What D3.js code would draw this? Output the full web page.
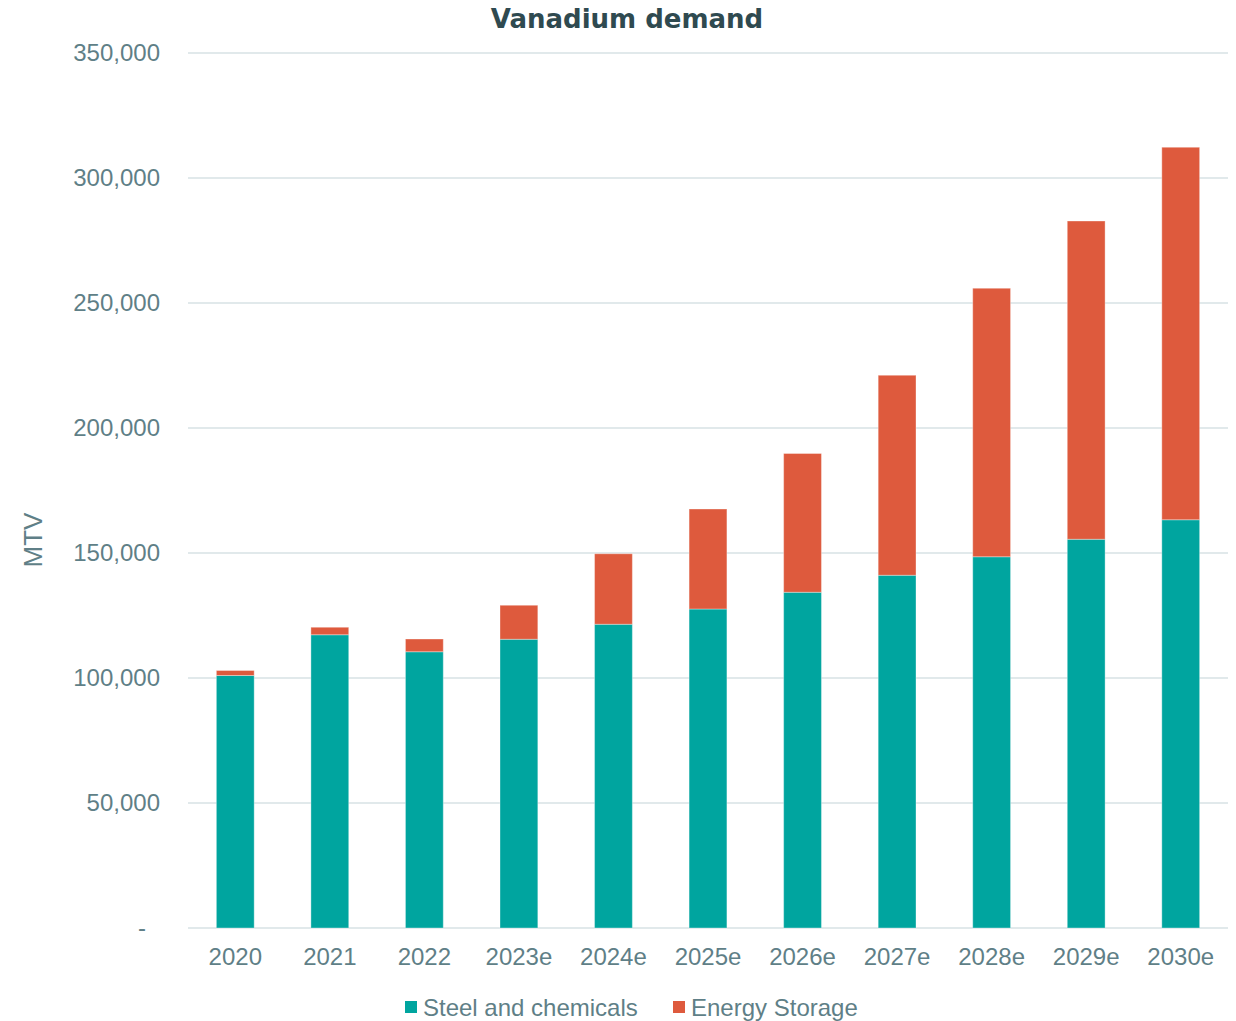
<!DOCTYPE html>
<html><head><meta charset="utf-8">
<script src="https://cdn.jsdelivr.net/npm/d3@7"></script>
<style>body{margin:0;background:#fff}</style>
</head><body>
<svg id="c" width="1236" height="1021"></svg>
<script>
const categories = ["2020","2021","2022","2023e","2024e","2025e","2026e","2027e","2028e","2029e","2030e"];
const steelAndChemicals = [101000,117300,110500,115500,121500,127600,134300,141100,148500,155500,163300];
const energyStorage = [2000,3000,5100,13600,28200,40000,55500,80000,107400,127300,149000];
const seriesNames = ["Steel and chemicals","Energy Storage"];
const seriesColors = ["#00A59F","#DE5A3D"];
const yTicks = [0,50000,100000,150000,200000,250000,300000,350000];

const svg = d3.select("#c");
const m = {l:188, r:1228, t:53, b:928};
const x = d3.scaleBand().domain(categories).range([m.l, m.r]).paddingInner(0.6).paddingOuter(0.3);
const y = d3.scaleLinear().domain([0,350000]).range([m.b, m.t]);
const textCol = "#5F7F87";
const font = "'Liberation Sans', Arial, sans-serif";

// gridlines
svg.append("g").selectAll("line").data(yTicks).join("line")
  .attr("x1", m.l).attr("x2", m.r)
  .attr("y1", d=>y(d)).attr("y2", d=>y(d))
  .attr("stroke", "#E1E9EB").attr("stroke-width", 2);

// y axis
const yAxis = d3.axisLeft(y).tickValues(yTicks).tickSize(0).tickPadding(28)
  .tickFormat(d => d===0 ? "-" : d3.format(",")(d));
const ga = svg.append("g").attr("transform", `translate(${m.l},0)`).call(yAxis);
ga.select(".domain").remove();
ga.selectAll("text").attr("fill", textCol).style("font-family", font).style("font-size","24px");
ga.selectAll(".tick").filter(d=>d===0).select("text").attr("dx", -14);

// x axis
const xAxis = d3.axisBottom(x).tickSize(0).tickPadding(20);
const gx = svg.append("g").attr("transform", `translate(0,${m.b})`).call(xAxis);
gx.select(".domain").remove();
gx.selectAll("text").attr("fill", textCol).style("font-family", font).style("font-size","24px");

// stacked data
const rows = categories.map((c,i)=>({cat:c, s:steelAndChemicals[i], e:energyStorage[i]}));
const stack = d3.stack().keys(["s","e"])(rows);
svg.append("g").selectAll("g").data(stack).join("g")
  .attr("fill",(d,i)=>seriesColors[i])
  .selectAll("rect").data(d=>d).join("rect")
  .attr("x", d=>x(d.data.cat)).attr("width", x.bandwidth())
  .attr("y", d=>y(d[1])).attr("height", d=>y(d[0])-y(d[1]))
  .attr("stroke","#fff").attr("stroke-opacity",0.35).attr("stroke-width",1);

// title
svg.append("text").attr("x", 627).attr("y", 28).attr("text-anchor","middle")
  .attr("fill","#2F4A50").style("font-family","'DejaVu Sans', Verdana, sans-serif")
  .style("font-weight","bold").style("font-size","26px").text("Vanadium demand");

// y label
svg.append("text").attr("transform","translate(42,540) rotate(-90)").attr("text-anchor","middle")
  .attr("fill", textCol).style("font-family", font).style("font-size","26px").text("MTV");

// legend
const legX = [405, 673];
const lg = svg.append("g").selectAll("g").data(seriesNames).join("g")
  .attr("transform",(d,i)=>`translate(${legX[i]},1001)`);
lg.append("rect").attr("width",12).attr("height",12).attr("fill",(d,i)=>seriesColors[i]);
lg.append("text").attr("x",18).attr("y",15).attr("fill",textCol)
  .style("font-family",font).style("font-size","24px").text(d=>d);
</script>
</body></html>
